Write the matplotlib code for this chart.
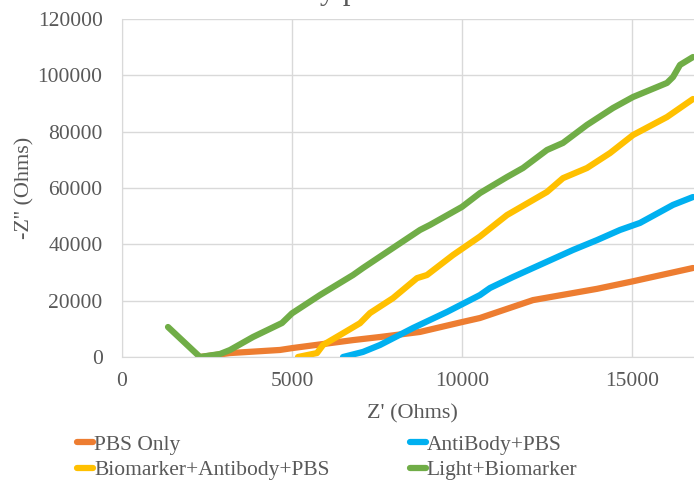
import matplotlib.pyplot as plt
from matplotlib.lines import Line2D

plt.rcParams['font.family'] = ['Liberation Serif', 'DejaVu Serif']

# Z' (Ohms) and -Z'' (Ohms)
pbs_x = [2300, 3176, 4647, 5029, 6794, 7588, 8765, 10000, 10529, 12088, 13970, 15000, 16794]
pbs_y = [0, 1400, 2500, 3200, 6000, 7100, 8900, 12400, 13850, 20200, 24200, 26800, 31600]

ab_x = [6500, 7088, 7588, 8559, 9559, 10529, 10824, 11500, 13265, 13970, 14647,
        15235, 16206, 16794]
ab_y = [0, 1800, 4260, 10300, 16000, 22000, 24500, 28400, 38000, 41500, 45100,
        47600, 54000, 56800]

bio_x = [5176, 5735, 5912, 6412, 7000, 7294, 7970, 8676, 8970, 9735, 10529, 11324,
         12500, 12970, 13676, 14353, 15029, 16029, 16794]
bio_y = [0, 1400, 4260, 7800, 12000, 15600, 20900, 28000, 29100, 36200, 42800, 50400,
         58600, 63500, 67100, 72400, 78800, 85200, 91600]

light_x = [1353, 2294, 2882, 3176, 3853, 4706, 5000, 5823, 6794, 7088, 7882, 8765,
           9059, 10000, 10529, 11324, 11794, 12500, 12970, 13676, 14441, 15029,
           16029, 16206, 16412, 16794]
light_y = [10650, 0, 1065, 2485, 7100, 12070, 15500, 22000, 29100, 31600, 38000, 45100,
           46900, 53300, 58200, 63900, 67100, 73500, 76000, 82400, 88400, 92300,
           97300, 99400, 103700, 106500]

names = ["PBS Only", "AntiBody+PBS", "Biomarker+Antibody+PBS", "Light+Biomarker"]
colors = ["#ED7D31", "#00B0F0", "#FFC000", "#70AD47"]
series = [(pbs_x, pbs_y), (ab_x, ab_y), (bio_x, bio_y), (light_x, light_y)]

fig = plt.figure(figsize=(6.94, 4.8), dpi=100)
ax = fig.add_axes([122 / 694, 123 / 480, 680 / 694, 338 / 480])

for (xs, ys), c in zip(series, colors):
    ax.plot(xs, ys, color=c, lw=4.5, solid_capstyle='round', solid_joinstyle='round')

ax.set_xlim(0, 20000)
ax.set_ylim(0, 120000)
ax.set_xticks([0, 5000, 10000, 15000])
ax.set_yticks(range(0, 120001, 20000))
ax.grid(True, color='#D9D9D9', lw=1)
ax.set_axisbelow(True)
for s in ['top', 'right']:
    ax.spines[s].set_visible(False)
for s in ['left', 'bottom']:
    ax.spines[s].set_color('#D9D9D9')
ax.tick_params(length=0, labelsize=15.5, labelcolor='#595959')
ax.tick_params(axis='x', pad=11)
ax.tick_params(axis='y', pad=14)

ax.set_xlabel("Z' (Ohms)", fontsize=16, color='#595959')
ax.xaxis.set_label_coords(0.4265, -0.139)
ax.set_ylabel("-Z'' (Ohms)", fontsize=16, color='#595959')
ax.yaxis.set_label_coords(-0.128, 0.5)

# title sits mostly above the cropped top edge
fig.text(205 / 694, 1 + 1.5 / 480, "Sensitivity plot", fontsize=22,
         color='#595959', va='baseline', ha='left')

# column-wise fill, so order gives rows: PBS | AntiBody, Biomarker | Light
order = [0, 2, 1, 3]
handles = [Line2D([], [], color=colors[i], lw=4.5, solid_capstyle='round') for i in order]
fig.legend(handles, [names[i] for i in order], loc='upper left',
           bbox_to_anchor=(66 / 694, 1 - 424 / 480), ncol=2, frameon=False,
           fontsize=15.5, handlelength=0.75, handletextpad=0.05, columnspacing=3.72,
           labelspacing=0.25, borderpad=0, labelcolor='#595959')

fig.savefig('out.png', dpi=100)
